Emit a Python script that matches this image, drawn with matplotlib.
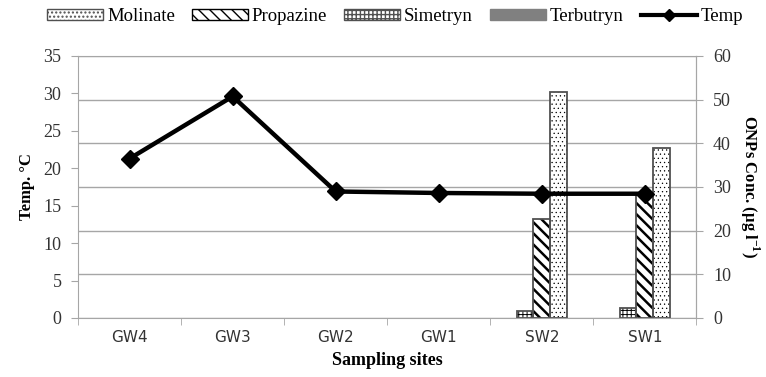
import matplotlib
matplotlib.use("Agg")
import matplotlib.pyplot as plt
from matplotlib.lines import Line2D
from matplotlib.patches import Patch
import numpy as np

sites = ["GW4", "GW3", "GW2", "GW1", "SW2", "SW1"]
temp = [21.3, 29.6, 16.9, 16.7, 16.6, 16.6]
molinate = [0, 0, 0, 0, 51.8, 38.9]
propazine = [0, 0, 0, 0, 22.7, 28.4]
simetryn = [0, 0, 0, 0, 1.6, 2.4]
terbutryn = [0, 0, 0, 0, 0, 0]
left_ticks = [0, 5, 10, 15, 20, 25, 30, 35]
right_ticks = [0, 10, 20, 30, 40, 50, 60]

plt.rcParams['mathtext.fontset'] = 'custom'
plt.rcParams['mathtext.rm'] = 'Liberation Serif:bold'
plt.rcParams['mathtext.bf'] = 'Liberation Serif:bold'

fig = plt.figure(figsize=(7.66, 3.77), dpi=100)
ax = fig.add_axes([0.102, 0.1565, 0.807, 0.695])
ax2 = ax.twinx()
ax.set_zorder(ax2.get_zorder() + 1)
ax.patch.set_visible(False)

x = np.arange(len(sites))
w = 0.162
edge = '#505050'

def mkbar(vals, off, hatch, fc, hlw):
    v = np.array(vals, dtype=float)
    v[v == 0] = np.nan
    with plt.rc_context({'hatch.linewidth': hlw}):
        b = ax2.bar(x + off * w, v, w, facecolor=fc, edgecolor='black',
                    hatch=hatch, linewidth=0, zorder=2)
    for p in b:
        try:
            p.set_hatch_linewidth(hlw)
        except Exception:
            pass
    ax2.bar(x + off * w, v, w, facecolor='none', edgecolor=edge, linewidth=1.3, zorder=3)

mkbar(simetryn, -1, '++++', 'white', 0.7)
mkbar(propazine, 0, '\\\\\\', 'white', 1.8)
mkbar(molinate, 1, '....', 'white', 0.4)
tv = np.array(terbutryn, dtype=float)
tv[tv == 0] = np.nan
ax2.bar(x, tv, w, facecolor='#808080', linewidth=0, zorder=2)

ax.plot(x, temp, color='black', lw=3.2, marker='D', markersize=9, zorder=5)

ax.set_xlim(-0.5, len(sites) - 0.5)
ax.set_ylim(0, 35)
ax2.set_ylim(0, 60)
ax.set_yticks(left_ticks)
ax2.set_yticks(right_ticks)
ax2.yaxis.grid(True, color='#a6a6a6', lw=1.0)
ax2.set_axisbelow(True)

ax.set_xticks(x)
ax.set_xticklabels(sites, fontsize=11, family='DejaVu Sans', color='#333333')
ax.set_xticks(np.arange(-0.5, len(sites)), minor=True)
ax.tick_params(axis='x', which='major', length=0, pad=9)
ax.tick_params(axis='x', which='minor', length=5, color='#a6a6a6', direction='out')
ax.tick_params(axis='y', length=5, color='#a6a6a6', direction='out', labelsize=13,
               labelcolor='#333333', pad=7)
ax2.tick_params(axis='y', length=5, color='#a6a6a6', direction='out', labelsize=13,
                labelcolor='#333333', pad=7)
for lab in ax.get_yticklabels() + ax2.get_yticklabels():
    lab.set_family('Liberation Serif')

for a in (ax, ax2):
    a.spines['top'].set_visible(False)
    for s in ('left', 'right', 'bottom'):
        a.spines[s].set_color('#a6a6a6')
ax2.spines['left'].set_visible(False)
ax2.spines['bottom'].set_visible(False)
ax2.spines['top'].set_visible(True)
ax2.spines['top'].set_color('#a6a6a6')

ax.set_xlabel('Sampling sites', family='Liberation Serif', fontweight='bold', fontsize=13,
              labelpad=5)
ax.set_ylabel('Temp. °C', family='Liberation Serif', fontweight='bold', fontsize=12,
              labelpad=6)
ax2.set_ylabel(r'ONPs Conc. (µg l$^{-1}$)', family='Liberation Serif', fontweight='bold',
               fontsize=12, rotation=-90, labelpad=22)

handles = [
    Patch(facecolor='white', edgecolor=edge, hatch='....', label='Molinate'),
    Patch(facecolor='white', edgecolor='black', hatch='\\\\\\', label='Propazine'),
    Patch(facecolor='white', edgecolor=edge, hatch='++++', label='Simetryn'),
    Patch(facecolor='#808080', edgecolor='#808080', label='Terbutryn'),
    Line2D([], [], color='black', lw=3, marker='D', markersize=6, label='Temp'),
]
fig.legend(handles=handles, loc='center', bbox_to_anchor=(0.516, 0.955), ncol=5,
           frameon=False, prop={'family': 'Liberation Serif', 'size': 13.5},
           handlelength=3.0, handleheight=0.5, handletextpad=0.2, columnspacing=0.9)

fig.savefig('out.png', dpi=100)
